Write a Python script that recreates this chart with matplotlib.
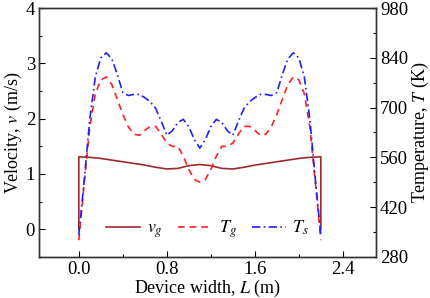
import matplotlib.pyplot as plt
from matplotlib.ticker import MultipleLocator

plt.rcParams['font.family'] = 'Liberation Serif'
plt.rcParams['mathtext.fontset'] = 'stix'
plt.rcParams['font.size'] = 13

# gas velocity (m/s)
x_v = [0.0, 0.0, 0.1, 0.2, 0.3, 0.4, 0.5, 0.6, 0.7, 0.8, 0.9, 1.0, 1.1,
       1.2, 1.3, 1.4, 1.5, 1.6, 1.7, 1.8, 1.9, 2.0, 2.1, 2.2, 2.2]
v_g = [0.0, 1.31, 1.30, 1.28, 1.25, 1.22, 1.19, 1.16, 1.12, 1.09, 1.10, 1.15, 1.17,
       1.15, 1.10, 1.09, 1.12, 1.16, 1.19, 1.22, 1.25, 1.28, 1.30, 1.31, 0.0]

# temperatures (K)
x_t = [0.00, 0.05, 0.10, 0.15, 0.20, 0.25, 0.30, 0.35, 0.40, 0.45, 0.50, 0.55,
       0.60, 0.65, 0.70, 0.75, 0.80, 0.85, 0.90, 0.95, 1.00, 1.05, 1.10, 1.15,
       1.20, 1.25, 1.30, 1.35, 1.40, 1.45, 1.50, 1.55, 1.60, 1.65, 1.70, 1.75,
       1.80, 1.85, 1.90, 1.95, 2.00, 2.05, 2.10, 2.15, 2.20]
T_g = [327, 490, 646, 739, 778, 786, 765, 723, 681, 646, 625, 622,
       636, 647, 647, 625, 600, 591, 591, 563, 526, 498, 490, 498,
       526, 563, 591, 591, 600, 625, 647, 647, 636, 622, 625, 646,
       681, 723, 765, 786, 778, 739, 646, 490, 327]
T_s = [342, 498, 669, 786, 840, 854, 837, 793, 742, 734, 737, 737,
       728, 716, 697, 661, 622, 635, 658, 667, 646, 610, 586, 610,
       646, 667, 658, 635, 622, 661, 697, 716, 728, 737, 737, 734,
       742, 793, 837, 854, 840, 786, 669, 498, 342]

fig = plt.figure(figsize=(4.31, 2.98), dpi=100)
ax = fig.add_axes([0.091, 0.138, 0.781, 0.835])
ax2 = ax.twinx()

l1, = ax.plot(x_v, v_g, color='#9B2C2C', lw=1.2, label='$v_g$')
l2, = ax2.plot(x_t, T_g, color='#FF2020', lw=1.2, ls=(0, (4, 3)), label='$T_g$')
l3, = ax2.plot(x_t, T_s, color='#2020FF', lw=1.2, ls=(0, (5, 2, 1, 2)), label='$T_s$')

ax.set_xlim(-0.36, 2.7)
ax.set_ylim(-0.5, 4)
ax2.set_ylim(280, 980)
ax.xaxis.set_major_locator(MultipleLocator(0.8))
ax.xaxis.set_minor_locator(MultipleLocator(0.4))
ax.yaxis.set_major_locator(MultipleLocator(1))
ax.yaxis.set_minor_locator(MultipleLocator(0.5))
ax2.yaxis.set_major_locator(MultipleLocator(140))
ax2.yaxis.set_minor_locator(MultipleLocator(70))

for a in (ax, ax2):
    a.tick_params(which='major', direction='in', length=4, width=0.8, labelsize=13.5, pad=3)
    a.tick_params(which='minor', direction='in', length=2.5, width=0.8)
    for s in a.spines.values():
        s.set_linewidth(1.0)
        s.set_color('#333333')
ax.tick_params(which='both', right=False, top=False)

ax.set_xlabel('Device width, $L$ (m)', labelpad=0, fontsize=13)
ax.set_ylabel('Velocity, $v$ (m/s)', labelpad=1, fontsize=13)
ax2.set_ylabel('Temperature, $T$ (K)', labelpad=1, fontsize=13)

ax.legend(handles=[l1, l2, l3], ncol=3, frameon=False, loc='center',
          bbox_to_anchor=(0.50, 0.11), handlelength=1.9, columnspacing=0.85,
          handletextpad=0.35, fontsize=13)

fig.savefig('out.png', dpi=100)
